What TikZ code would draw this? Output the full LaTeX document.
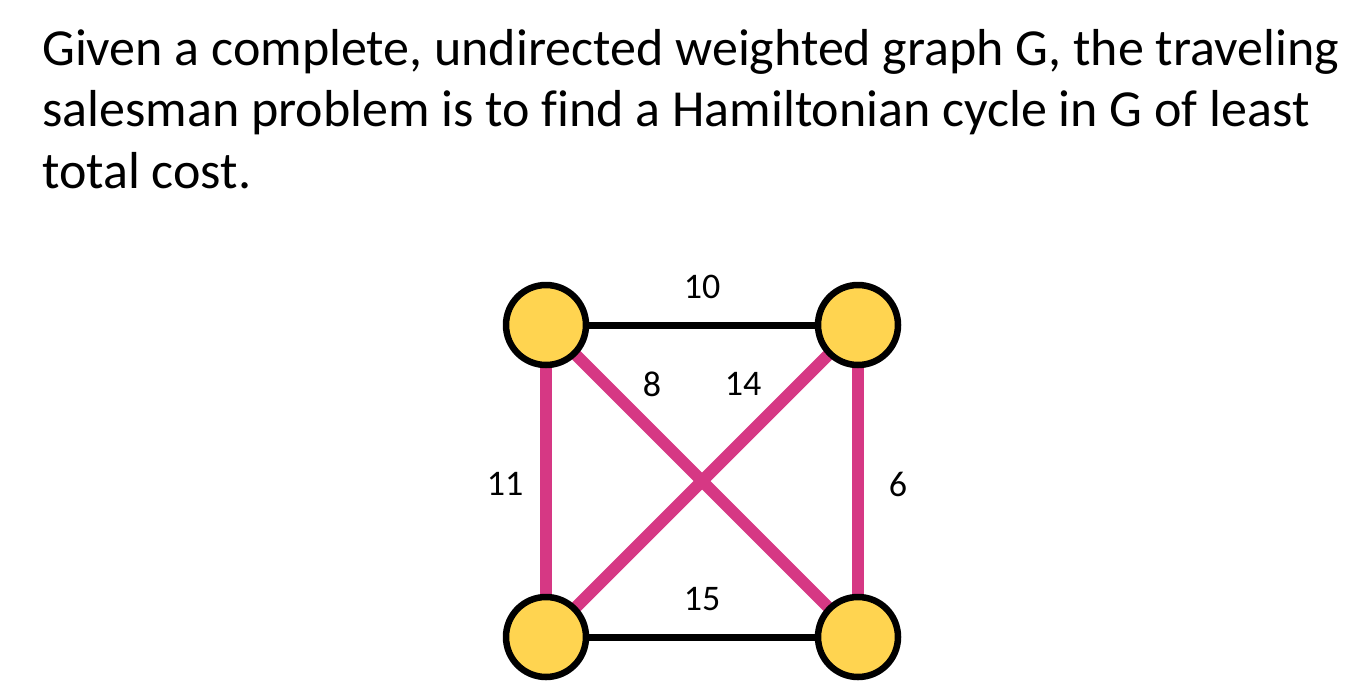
\documentclass[tikz,border=0pt]{standalone}
\usepackage{fontspec}
\setmainfont{Carlito}[Ligatures=NoCommon]
\usetikzlibrary{backgrounds}
\definecolor{vyellow}{RGB}{255,212,80}
\definecolor{epink}{RGB}{214,56,132}
\tikzset{
  vertex/.style={circle, draw=black, fill=vyellow, line width=6.5pt, minimum size=80pt, inner sep=0pt},
  plain/.style={draw=black, line width=7pt},
  tour/.style={draw=epink, line width=12pt},
  wlabel/.style={font=\fontsize{36}{43}\selectfont, inner sep=0pt},
  body/.style={font=\fontsize{52}{62}\selectfont, anchor=base west, inner sep=0pt}
}
\begin{document}
\begin{tikzpicture}[x=1pt,y=-1pt]
\useasboundingbox (0,0) rectangle (1359,696);
\node[body] (t1) at (42,65) {Given a complete, undirected weighted graph G, the traveling};
\node[body] (t2) at (42,126) {salesman problem is to find a Hamiltonian cycle in G of least};
\node[body] (t3) at (42,188) {total cost.};
\node[vertex] (a) at (546,325) {};
\node[vertex] (b) at (858,325) {};
\node[vertex] (c) at (546,637) {};
\node[vertex] (d) at (858,637) {};
\begin{scope}[on background layer]
\draw[plain] (a.center) -- (b.center);
\draw[plain] (c.center) -- (d.center);
\draw[tour] (a.center) -- (c.center);
\draw[tour] (b.center) -- (d.center);
\draw[tour] (a.center) -- (d.center);
\draw[tour] (b.center) -- (c.center);
\end{scope}
\node[wlabel] (l10) at (702,287) {10};
\node[wlabel] (l8) at (652,384) {8};
\node[wlabel] (l14) at (743,384) {14};
\node[wlabel] (l11) at (505,484) {11};
\node[wlabel] (l6) at (898,484) {6};
\node[wlabel] (l15) at (702,599) {15};
\end{tikzpicture}
\end{document}
